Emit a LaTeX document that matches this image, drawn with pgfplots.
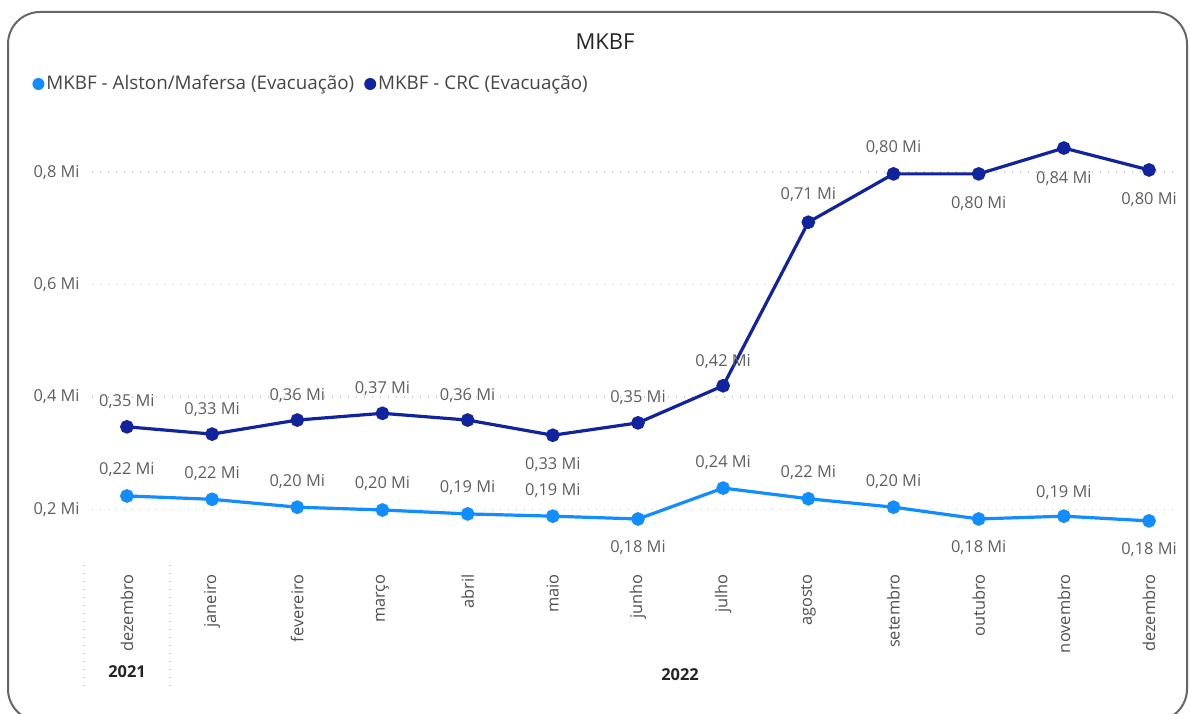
\documentclass[border=0pt]{standalone}
\usepackage{fontspec}
\setmainfont{Open Sans}
\usepackage{pgfplots}
\usepackage{pgfplotstable}
\pgfplotsset{compat=1.18}

\definecolor{lightb}{HTML}{118DFF}
\definecolor{darkb}{HTML}{12239E}
\definecolor{lbl}{HTML}{605E5C}
\definecolor{ttl}{HTML}{252423}

% dc / da = vertical offset (pt) of the data label
\pgfplotstableread{
x  crc    dc     alston da
0  0.347  12.5   0.224  13
1  0.334  12.5   0.218  13
2  0.359  12.5   0.204  13
3  0.371  12.5   0.199  13
4  0.359  12.5   0.192  13
5  0.332  -14.5  0.188  13
6  0.354  12.5   0.183  -14.5
7  0.420  12     0.238  13
8  0.711  14     0.219  13
9  0.797  13     0.204  13
10 0.797  -15    0.183  -14.5
11 0.843  -15    0.188  12
12 0.804  -15    0.1796 -14.5
}\data

\newcommand\lab{\fontsize{8.2}{9.8}\selectfont}

\begin{document}
\begin{tikzpicture}[x=0.5pt,y=0.5pt]
\useasboundingbox (0,0) rectangle (1190,713);
\draw[gray!80!black, line width=1pt, rounded corners=16pt] (8,701) rectangle (1187,-8);

\node[text=ttl, font=\fontsize{11}{13}\selectfont] at (605,671) {MKBF};

\begin{axis}[
    at={(46pt,76.5pt)}, anchor=south west,
    scale only axis, width=543pt, height=222pt,
    xmin=-0.41, xmax=12.34, ymin=0.11, ymax=0.9,
    axis line style={draw=none}, major tick length=0pt,
    xtick={0,...,12},
    xticklabels={dezembro,janeiro,fevereiro,março,abril,maio,junho,julho,agosto,setembro,outubro,novembro,dezembro},
    xticklabel style={yshift=-7pt, rotate=90, anchor=east, inner sep=0pt, text=ttl!80, font=\lab},
    ytick={0.2,0.4,0.6,0.8},
    yticklabels={{0,2 Mi},{0,4 Mi},{0,6 Mi},{0,8 Mi}},
    yticklabel style={anchor=east, inner sep=0pt, xshift=-6pt, text=lbl, font=\lab},
    ymajorgrids, grid style={gray!40, line width=0.8pt, dash pattern=on 0.4pt off 3.6pt},
    /pgf/number format/assume math mode=true,
    clip=false,
    nodes near coords={\pgfmathprintnumber[fixed,fixed zerofill,precision=2,use comma]{\pgfplotspointmeta} Mi},
    every node near coord/.append style={anchor=center, text=lbl, font=\lab, yshift=\dy pt},
    legend columns=-1,
    legend style={at={(-0.0552,1.0721)}, anchor=west, draw=none, fill=none, inner sep=0pt,
        font=\fontsize{9.4}{11}\selectfont, text=ttl!85, nodes={inner xsep=1pt, inner ysep=0pt},
        /tikz/every even column/.append style={column sep=4pt}},
    legend image code/.code={\fill[#1, draw=none] (0.1cm,0) circle (3pt);},
]
\addplot[lightb, line width=1.6pt, mark=*, mark size=2.6pt,
    visualization depends on={\thisrow{da} \as \dy}]
    table[x=x, y=alston] {\data};
\addlegendentry{MKBF - Alston/Mafersa (Evacuação)}
\addplot[darkb, line width=1.6pt, mark=*, mark size=2.6pt,
    visualization depends on={\thisrow{dc} \as \dy}]
    table[x=x, y=crc] {\data};
\addlegendentry{MKBF - CRC (Evacuação)}
\end{axis}

\draw[gray!40, line width=0.8pt, dash pattern=on 0.4pt off 3.6pt] (84,148) -- (84,23);
\draw[gray!40, line width=0.8pt, dash pattern=on 0.4pt off 3.6pt] (170,148) -- (170,23);
\node[text=ttl, font=\bfseries\lab] at (127,41) {2021};
\node[text=ttl, font=\bfseries\lab] at (680,38) {2022};
\end{tikzpicture}
\end{document}
